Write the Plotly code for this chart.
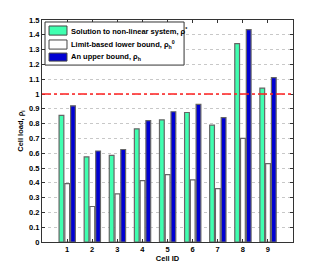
import plotly.graph_objects as go

cells = [1, 2, 3, 4, 5, 6, 7, 8, 9]
solution = [0.855, 0.575, 0.585, 0.765, 0.825, 0.875, 0.79, 1.34, 1.04]
lower_bound = [0.395, 0.24, 0.325, 0.415, 0.455, 0.42, 0.36, 0.70, 0.53]
upper_bound = [0.92, 0.615, 0.625, 0.82, 0.88, 0.93, 0.84, 1.435, 1.11]
threshold = 1.0
y_ticks = [0, 0.1, 0.2, 0.3, 0.4, 0.5, 0.6, 0.7, 0.8, 0.9, 1, 1.1, 1.2, 1.3, 1.4, 1.5]
y_ticklabels = ["0", "0.1", "0.2", "0.3", "0.4", "0.5", "0.6", "0.7", "0.8", "0.9", "1", "1.1", "1.2", "1.3", "1.4", "1.5"]
series_names = ["Solution to non-linear system, ρ<sup>*</sup>",
                "Limit-based lower bound, ρ<sub>h</sub><sup>0</sup>",
                "An upper bound, ρ<sub>h</sub>"]
series_colors = ["#40FFB0", "#FFFFFF", "#0000D2"]

FONT = "Liberation Sans, Arial, Helvetica, sans-serif"
edge = dict(color="#666666", width=1.2)

fig = go.Figure()
for vals, name, col, off in zip([solution, lower_bound, upper_bound], series_names,
                                series_colors, [-0.32, -0.09, 0.14]):
    fig.add_trace(go.Bar(x=cells, y=vals, width=0.19, offset=off,
                         marker=dict(color=col, line=edge), name=name,
                         showlegend=False))

fig.add_hline(y=threshold, line=dict(color="#FF2020", width=1.5, dash="dashdot"))

# manual legend (compact, like the reference)
fig.add_shape(type="rect", xref="paper", yref="paper", x0=0.012, x1=0.566, y0=0.797, y1=0.991,
              line=dict(color="#333", width=1), fillcolor="white", layer="above")
sw_y = [(0.932, 0.973), (0.869, 0.910), (0.815, 0.851)]
txt_y = [0.950, 0.889, 0.832]
for (y0, y1), ty, name, col in zip(sw_y, txt_y, series_names, series_colors):
    fig.add_shape(type="rect", xref="paper", yref="paper", x0=0.028, x1=0.0996, y0=y0, y1=y1,
                  line=dict(color="#444", width=1), fillcolor=col, layer="above")
    fig.add_annotation(xref="paper", yref="paper", x=0.106, y=ty, xanchor="left", yanchor="middle",
                       text=name, showarrow=False,
                       font=dict(family=FONT, size=7.5, weight="bold", color="black"))

fig.update_layout(
    width=316, height=264,
    margin=dict(l=34, r=31, t=12, b=30),
    paper_bgcolor="white", plot_bgcolor="white",
    font=dict(family=FONT, size=8, color="black"),
    barmode="overlay",
    showlegend=False,
    xaxis=dict(range=[0, 10], tickvals=cells, ticktext=[str(c) for c in cells],
               ticks="inside", ticklen=3, tickcolor="#333", automargin=False,
               showline=True, linecolor="#333", linewidth=1, mirror="ticks",
               showgrid=False, zeroline=False,
               tickfont=dict(family=FONT, size=7.5, weight="bold"),
               title=dict(text="Cell ID", font=dict(family=FONT, size=7.5, weight="bold"), standoff=1)),
    yaxis=dict(range=[0, 1.5], tickvals=y_ticks, ticktext=y_ticklabels,
               ticks="inside", ticklen=3, tickcolor="#333", automargin=False,
               showline=True, linecolor="#333", linewidth=1, mirror="ticks",
               showgrid=True, gridcolor="#c8c8c8", griddash="dot", gridwidth=1,
               zeroline=False,
               tickfont=dict(family=FONT, size=7.5, weight="bold"),
               title=dict(text="Cell load, ρ<sub>i</sub>", font=dict(family=FONT, size=7.5, weight="bold"), standoff=4)),
)

fig.write_html("out.html")
